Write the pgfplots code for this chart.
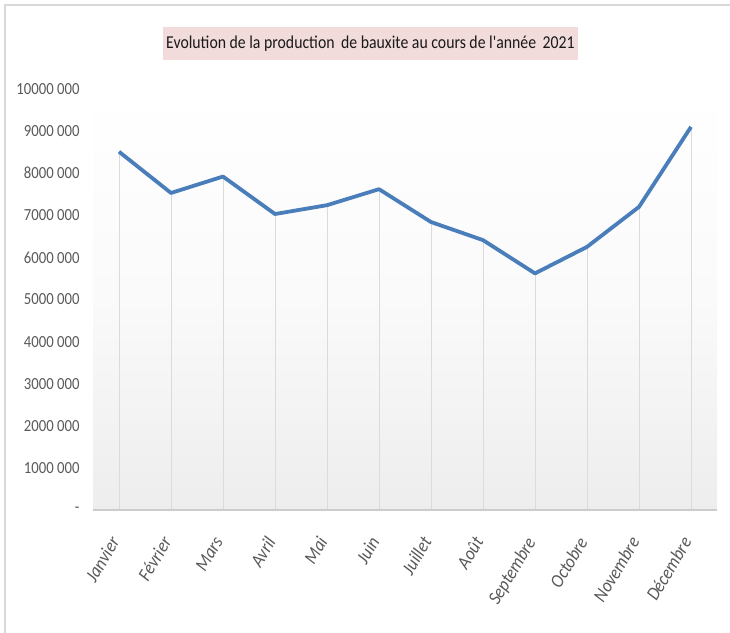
\documentclass[border=0pt]{standalone}
\usepackage{pgfplots}
\pgfplotsset{compat=1.18}
\usepackage{fontspec}
\setmainfont{Carlito}
\newfontfamily\narrowfont[FakeStretch=0.87]{Carlito}
\newfontfamily\narrowit[FakeStretch=0.9]{Carlito Italic}
\definecolor{linec}{RGB}{74,126,187}
\definecolor{txt}{RGB}{89,89,89}
\definecolor{titlebg}{RGB}{242,220,219}
\pgfplotstableread{
x y
0 8510000
1 7530000
2 7920000
3 7030000
4 7240000
5 7620000
6 6840000
7 6410000
8 5620000
9 6250000
10 7200000
11 9100000
}\prod
\begin{document}
\begin{tikzpicture}[x=1bp,y=1bp]
\path[use as bounding box] (0,0) rectangle (730,633);
\draw[gray!30, line width=1.5bp] (5,0) -- (5,628) -- (730,628);
\node[fill=titlebg, inner sep=0pt, minimum width=415bp, minimum height=33bp, text=black!90] at (370.5,589.5) {\narrowfont\fontsize{18.2}{20}\selectfont Evolution de la production\, de bauxite au cours de l'année\, 2021};
\begin{axis}[
  at={(93bp,123bp)}, anchor=south west,
  scale only axis, width=624bp, height=421bp,
  xmin=-0.5, xmax=11.5, ymin=0, ymax=10000000,
  scaled y ticks=false,
  axis line style={draw=none},
  axis background/.style={shade, top color=white, bottom color=black!7, middle color=black!2},
  xtick=data,
  xticklabels={Janvier,Février,Mars,Avril,Mai,Juin,Juillet,Août,Septembre,Octobre,Novembre,Décembre},
  xticklabel style={xshift=-10bp, yshift=-25bp, rotate=59, anchor=north east, font=\narrowit\fontsize{19}{20}\selectfont, text=txt, inner sep=0pt},
  ytick={0,1000000,2000000,3000000,4000000,5000000,6000000,7000000,8000000,9000000,10000000},
  yticklabels={-,1000 000,2000 000,3000 000,4000 000,5000 000,6000 000,7000 000,8000 000,9000 000,10000 000},
  yticklabel style={font=\narrowfont\fontsize{17}{18}\selectfont, text=txt, anchor=east, xshift=-10bp},
  major tick length=0pt,
  clip=false,
]
\addplot[ycomb, draw=black!14, line width=1bp, mark=none] table[x=x,y=y] {\prod};
\draw[black!20, line width=2bp] (axis cs:-0.5,0) -- (axis cs:11.5,0);
\addplot[linec, line width=3.8bp, mark=none, line join=round] table[x=x,y=y] {\prod};
\end{axis}
\end{tikzpicture}
\end{document}
